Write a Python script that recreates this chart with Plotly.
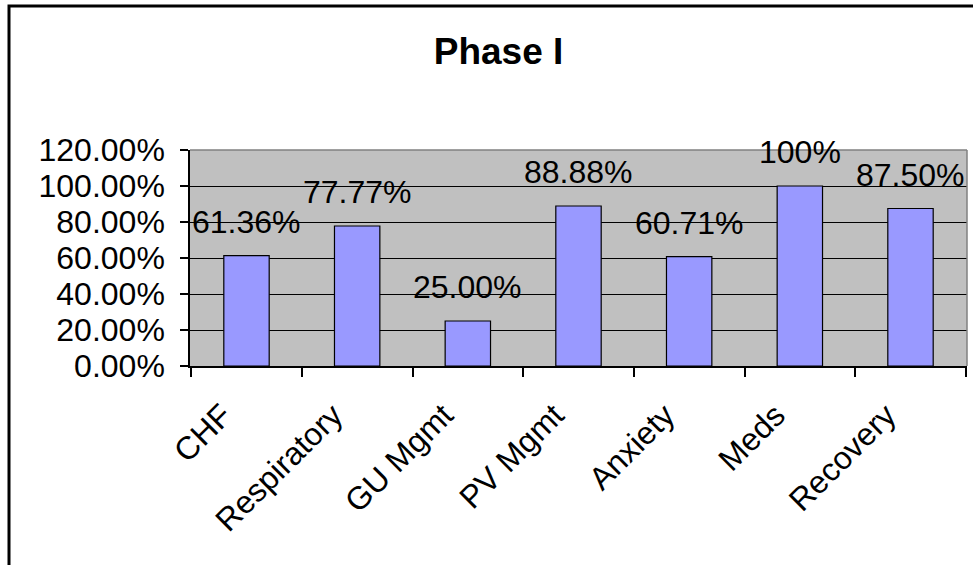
import plotly.graph_objects as go

categories = ["CHF", "Respiratory", "GU Mgmt", "PV Mgmt", "Anxiety", "Meds", "Recovery"]
values = [0.6136, 0.7777, 0.2500, 0.8888, 0.6071, 1.00, 0.8750]
value_labels = ["61.36%", "77.77%", "25.00%", "88.88%", "60.71%", "100%", "87.50%"]
y_ticks = [0, 0.2, 0.4, 0.6, 0.8, 1.0, 1.2]
y_tick_labels = ["0.00%", "20.00%", "40.00%", "60.00%", "80.00%", "100.00%", "120.00%"]

FONT = "Liberation Sans, Arial, sans-serif"
W, H = 973, 565
L, R, T, B = 190, 6, 150, 199
pw = W - L - R
ph = H - T - B

fig = go.Figure()
fig.add_trace(go.Bar(
    x=categories, y=values,
    marker=dict(color="#9999FF", line=dict(color="black", width=1.2)),
    hoverinfo="x+y",
))

for c, v, t in zip(categories, values, value_labels):
    fig.add_annotation(x=c, y=v, text=t, showarrow=False, yanchor="bottom",
                       yshift=14, font=dict(family=FONT, size=32, color="black"))

# chart frame and plot-area border (top/right gray)
fig.add_shape(type="rect", xref="paper", yref="paper",
              x0=(9 - L) / pw, x1=1.5, y0=-2, y1=(H - B - 6) / ph,
              line=dict(color="black", width=3), layer="above")
fig.add_shape(type="line", xref="paper", yref="paper", x0=0, x1=1, y0=1, y1=1,
              line=dict(color="#808080", width=1.5))
fig.add_shape(type="line", xref="paper", yref="paper", x0=1, x1=1, y0=0, y1=1,
              line=dict(color="#808080", width=1.5))

fig.update_layout(
    width=W, height=H,
    margin=dict(l=L, r=R, t=T, b=B, autoexpand=False),
    paper_bgcolor="white", plot_bgcolor="#C0C0C0",
    bargap=0.59, showlegend=False,
    font=dict(family=FONT, size=32, color="black"),
    title=dict(text="<b>Phase I</b>", x=498.5 / W, xanchor="center",
               y=1 - 51 / H, yanchor="middle", yref="container",
               font=dict(family=FONT, size=37, color="black")),
)
fig.update_xaxes(
    type="category", showline=True, linecolor="black", linewidth=1.5,
    ticks="outside", tickson="boundaries", ticklen=9, tickcolor="black", tickwidth=1.5,
    tickangle=-45, tickfont=dict(family=FONT, size=32), showgrid=False,
    ticklabelshift=-24, ticklabelstandoff=16,
)
fig.update_yaxes(
    range=[0, 1.2], tickvals=y_ticks, ticktext=y_tick_labels,
    showline=True, linecolor="black", linewidth=1.5,
    ticks="outside", ticklen=8, tickcolor="black", tickwidth=1.5,
    showgrid=True, gridcolor="black", gridwidth=1.2, zeroline=False,
    tickfont=dict(family=FONT, size=32), ticklabelstandoff=9,
)

fig.write_html("out.html", config={"displayModeBar": False},
               post_script="document.body.style.margin='0px';")
